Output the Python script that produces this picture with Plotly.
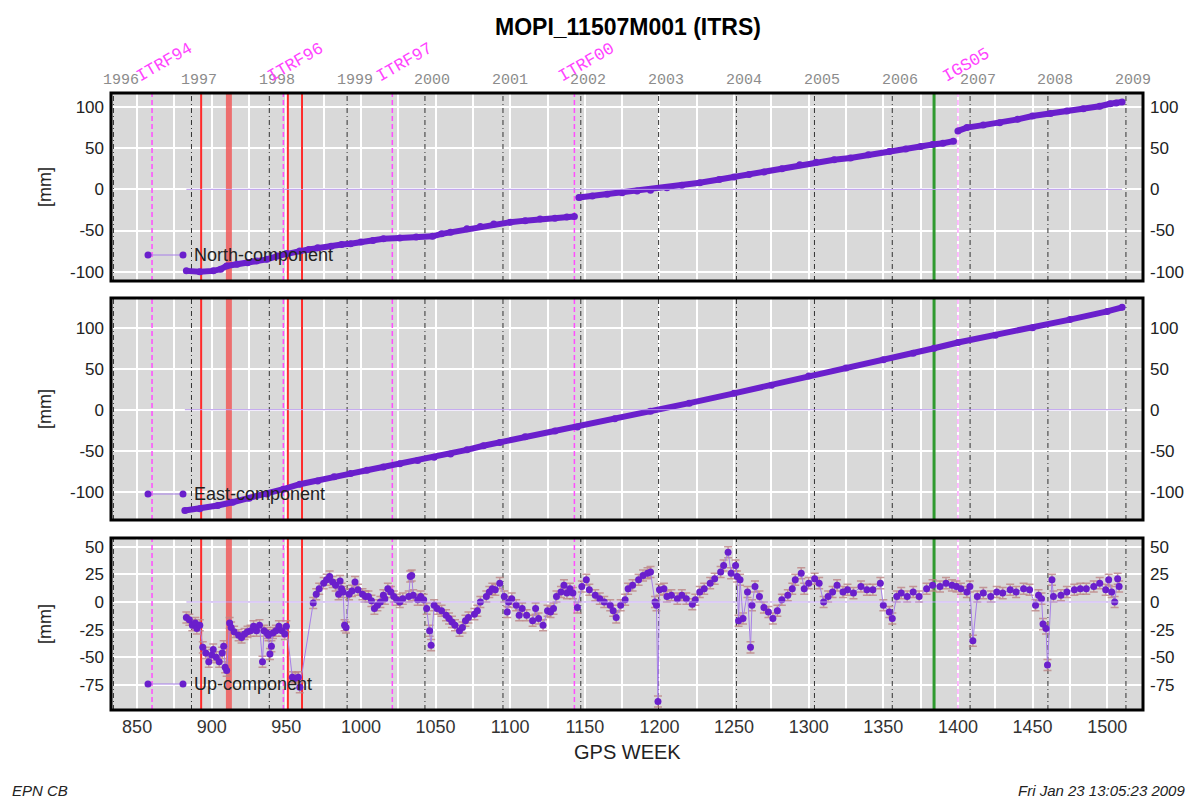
import plotly.graph_objects as go
import pandas as pd

W, H = 1195, 798

# ---------------------------------------------------------------------------
# Station MOPI_11507M001 – weekly coordinate residuals (mm) vs. GPS week
# ---------------------------------------------------------------------------
north_week = [883, 892, 901, 906, 910, 917, 924, 930, 937, 944, 950, 959, 965, 971,
              980, 987, 993, 1000, 1008, 1015, 1026, 1037, 1048, 1054, 1060, 1071,
              1080, 1089, 1100, 1110, 1120, 1130, 1138, 1143,
              None,
              1146, 1155, 1165, 1175, 1185, 1194, 1205, 1215, 1227, 1240, 1250, 1260,
              1270, 1282, 1294, 1305, 1317, 1328, 1340, 1354, 1365, 1375, 1383, 1390,
              1397,
              None,
              1400, 1406, 1417, 1428, 1440, 1450, 1462, 1473, 1484, 1495, 1502, 1506,
              1510]
north_mm = [-99, -100, -99, -97, -93, -91, -89, -87, -85, -81, -78, -75, -73, -71,
            -69, -67, -66, -64, -62, -60, -59, -58, -57, -54, -52, -48,
            -45, -42, -40, -38, -36, -35, -33.5, -33,
            None,
            -10, -8, -6, -4, -2, -1, 2, 5, 8, 12, 15, 18,
            21, 25, 30, 33, 36, 38, 42, 46, 49, 52, 54.5, 56,
            58.5,
            None,
            71, 75, 78, 81, 85, 89, 92, 95, 98, 101, 104, 105,
            106]

east_week = [882, 892, 904, 914, 925, 937, 948, 959, 971, 982, 993, 1004, 1015, 1026,
             1038, 1049, 1060, 1071, 1082, 1093, 1110, 1130, 1145, 1170, 1194, 1220,
             1250, 1275, 1300, 1325, 1350, 1370, 1384, 1400, 1425, 1450, 1475, 1500,
             1510]
east_mm = [-123, -121, -117, -113, -108, -103, -97, -91, -87, -82, -78, -74, -70, -66,
           -62, -58, -54, -49, -44, -40, -33, -26, -21, -11, -2, 8,
           20, 30, 41, 51, 61, 69, 75, 82, 91, 100, 110, 120,
           125]

up_week = [883, 885, 887, 889, 890, 892, 894, 896, 898, 900, 901, 903, 905, 907, 908,
           909, 910, 912, 913, 915, 918, 920, 922, 924, 926, 928, 930, 932, 934, 935,
           937, 938, 939, 940, 941, 943, 945, 947, 949, 950, 954, 956, 958, 959, 968,
           970, 972, 975, 977, 979, 981, 983, 985, 986, 987, 988, 989, 990, 992, 994,
           996, 998, 1001, 1003, 1005, 1007, 1009, 1011, 1013, 1015, 1016, 1018, 1020,
           1022, 1024, 1026, 1028, 1032, 1033, 1034, 1035, 1038, 1040, 1042, 1044, 1046,
           1047, 1049, 1051, 1054, 1057, 1059, 1061, 1063, 1066, 1068, 1070, 1072, 1076,
           1078, 1080, 1084, 1086, 1088, 1090, 1093, 1096, 1098, 1099, 1101, 1104, 1106,
           1108, 1111, 1115, 1117, 1119, 1122, 1125, 1127, 1129, 1131, 1134, 1136, 1138,
           1140, 1142, 1145, 1148, 1151, 1153, 1157, 1160, 1163, 1167, 1169, 1171, 1174,
           1177, 1179, 1182, 1186, 1189, 1192, 1194, 1197, 1198, 1199, 1200, 1203, 1205,
           1208, 1212, 1215, 1218, 1222, 1224, 1227, 1230, 1234, 1237, 1241, 1243, 1246,
           1248, 1251, 1252, 1253, 1254, 1256, 1259, 1261, 1262, 1264, 1267, 1270, 1273,
           1276, 1279, 1282, 1286, 1289, 1291, 1295, 1297, 1300, 1304, 1307, 1310, 1313,
           1316, 1319, 1323, 1326, 1330, 1335, 1339, 1343, 1348, 1350, 1354, 1356, 1359,
           1362, 1366, 1370, 1374, 1379, 1383, 1388, 1392, 1396, 1399, 1402, 1406, 1408,
           1410, 1413, 1417, 1422, 1426, 1430, 1435, 1439, 1444, 1448, 1452, 1454, 1456,
           1457, 1459, 1460, 1463, 1464, 1469, 1473, 1478, 1482, 1486, 1491, 1495, 1499,
           1501, 1503, 1505, 1507, 1508]
up_mm = [-14, -16, -21, -19, -24, -21, -41, -46, -54, -48, -43, -50, -54, -46, -40,
         -59, -62, -19, -23, -27, -30, -32, -29, -27, -26, -22, -26, -21, -54, -26,
         -28, -30, -47, -40, -28, -26, -22, -26, -29, -22, -68, -69, -68, -77, -1,
         7, 12, 17, 20, 23, 18, 15, 7, 19, 12, 9, -21, -23, 7, 10,
         18, 11, 7, 5, 5, 1, -6, -3, 0, 6, 3, 12, 9,
         5, 2, 0, 3, 5, 23, 24, 6, 2, 5, 2, -6, -26,
         -39, -3, -6, -8, -12, -15, -18, -21, -26, -23, -17, -14, -11,
         -8, 0, 5, 9, 12, 11, 17, 5, -9, 0, 3, -3, -12,
         -6, -12, -17, -6, -15, -21, -8, -9, -6, 5, 9, 15, 8,
         12, 8, -5, 14, 20, 11, 6, 3, 0, -3, -8, -14, -3,
         2, 12, 15, 20, 24, 26, 27, 0, -3, -90, 11, 12, 5,
         6, 3, 6, 3, -2, 2, 9, 12, 17, 21, 27, 33, 45,
         26, 33, 23, -17, 20, -15, 9, -41, -3, 14, 5, -5, -9,
         -15, -8, 2, 6, 12, 20, 26, 12, 17, 21, 17, 0, 5,
         9, 15, 9, 11, 8, 14, 11, 11, 17, -3, -9, -15, 5,
         8, 5, 9, 5, 12, 15, 14, 17, 15, 14, 12, 9, 14,
         -35, 5, 8, 5, 9, 8, 11, 9, 12, 11, -3, 6, 3,
         -20, -24, -57, 20, 5, 6, 9, 11, 12, 12, 14, 17, 11,
         20, 9, 0, 21, 14]
up_sigma_mm = 5.0

# Reference-frame changes and station events (GPS weeks)
frame_names = ["ITRF94", "ITRF96", "ITRF97", "ITRF00", "IGS05"]
frame_weeks = [860, 948, 1021, 1143, 1400]
frame_colors = ["#ff4dff", "#ff4dff", "#ff4dff", "#ff4dff", "#ffa6ff"]
equipment_weeks = [892.9, 951.0, 960.5]
equipment_band = [909.5, 913.5]
discontinuity_week = 1384
years = list(range(1996, 2010))

TITLE = "MOPI_11507M001 (ITRS)"

# ---------------------------------------------------------------------------
# Styling / geometry
# ---------------------------------------------------------------------------
PURPLE = "#6a1fcc"
LINK = "#a77fe8"
ZERO = "#b999ec"
FONT = "Liberation Sans, Arial, Helvetica, sans-serif"
MONO = "Liberation Mono, Courier New, monospace"

X_RANGE = [832.5, 1524]
PLOT_L, PLOT_R = 111, 1143

panels = [
    dict(name="North-component", week=north_week, mm=north_mm, top=93, bottom=281,
         rng=[-111.3, 117], ticks=[-100, -50, 0, 50, 100], err=False),
    dict(name="East-component", week=east_week, mm=east_mm, top=298, bottom=520,
         rng=[-134.7, 136.4], ticks=[-100, -50, 0, 50, 100], err=False),
    dict(name="Up-component", week=up_week, mm=up_mm, top=538, bottom=710,
         rng=[-97.6, 57.8], ticks=[-75, -50, -25, 0, 25, 50], err=True),
]


def px(xp):
    return xp / W


def py(yp):
    return 1 - yp / H


def gps_week(year):
    return (pd.Timestamp(year=year, month=1, day=1) - pd.Timestamp("1980-01-06")).days / 7.0


def vlines(weeks, rng):
    """x/y arrays for a set of full-height vertical lines separated by gaps."""
    xs, ys = [], []
    for w in weeks:
        xs += [w, w, None]
        ys += [rng[0], rng[1], None]
    return xs, ys


year_weeks = [gps_week(y) for y in years]

fig = go.Figure()
layout = dict(
    width=W, height=H, autosize=False,
    margin=dict(l=0, r=0, t=0, b=0),
    paper_bgcolor="white", plot_bgcolor="#d9d9d9",
    showlegend=False,
    font=dict(family=FONT, color="#222"),
)
shapes = []
annotations = []

for i, p in enumerate(panels):
    k = i + 1
    xa = "x" if k == 1 else f"x{k}"
    ya = "y" if k == 1 else f"y{k}"
    ya_r = f"y{k + 3}"
    dom_y = [py(p["bottom"]), py(p["top"])]
    dom_x = [px(PLOT_L), px(PLOT_R)]
    rng = p["rng"]

    is_bottom = k == 3
    layout["xaxis" if k == 1 else f"xaxis{k}"] = dict(
        domain=dom_x, anchor=ya, range=X_RANGE,
        tickmode="linear", tick0=850, dtick=50,
        showgrid=True, gridcolor="white", gridwidth=2,
        minor=dict(tickmode="linear", tick0=825, dtick=25, showgrid=True,
                   gridcolor="white", gridwidth=2),
        zeroline=False, showline=False, ticks="",
        showticklabels=is_bottom, ticklabelstandoff=4,
        tickfont=dict(size=18, color="#333", family=FONT),
    )
    tick_text = [str(v) for v in p["ticks"]]
    layout["yaxis" if k == 1 else f"yaxis{k}"] = dict(
        domain=dom_y, anchor=xa, range=rng,
        tickmode="array", tickvals=p["ticks"], ticktext=tick_text,
        showgrid=True, gridcolor="white", gridwidth=2,
        zeroline=False, showline=False, ticks="", ticklabelstandoff=6,
        tickfont=dict(size=17, color="#222", family=FONT),
    )
    layout[f"yaxis{k + 3}"] = dict(
        overlaying=ya, anchor=xa, side="right", range=rng,
        tickmode="array", tickvals=p["ticks"], ticktext=tick_text,
        showgrid=False, zeroline=False, showline=False, ticks="",
        ticklabelstandoff=6,
        tickfont=dict(size=17, color="#222", family=FONT),
    )

    common = dict(xaxis=xa, yaxis=ya, hoverinfo="skip", mode="lines")

    # year boundaries
    vx, vy = vlines(year_weeks, rng)
    fig.add_trace(go.Scatter(x=vx, y=vy,
                             line=dict(color="#333", width=1, dash="5px,3px,1px,3px"),
                             **common))
    # reference frame changes
    for fw, fc in zip(frame_weeks, frame_colors):
        vx, vy = vlines([fw], rng)
        fig.add_trace(go.Scatter(x=vx, y=vy,
                                 line=dict(color=fc, width=1.5, dash="5px,3px"),
                                 **common))
    # equipment changes
    b0, b1 = equipment_band
    fig.add_trace(go.Scatter(x=[b0, b1, b1, b0, b0], y=[rng[0], rng[0], rng[1], rng[1], rng[0]],
                             fill="toself", fillcolor="rgba(240,90,90,0.85)",
                             line=dict(width=0), **common))
    vx, vy = vlines(equipment_weeks, rng)
    fig.add_trace(go.Scatter(x=vx, y=vy, line=dict(color="#ff2a2a", width=2), **common))
    vx, vy = vlines([discontinuity_week], rng)
    fig.add_trace(go.Scatter(x=vx, y=vy, line=dict(color="#2f9a2f", width=3), **common))

    # zero reference over the observed span (also drives the right-hand axis)
    wk_valid = [w for w in p["week"] if w is not None]
    fig.add_trace(go.Scatter(
        x=[min(wk_valid), max(wk_valid)], y=[0, 0], xaxis=xa, yaxis=ya_r,
        mode="lines", line=dict(color=ZERO, width=1), hoverinfo="skip"))

    # series
    if p["err"]:
        fig.add_trace(go.Scatter(
            x=p["week"], y=p["mm"], xaxis=xa, yaxis=ya, mode="lines+markers",
            line=dict(color=LINK, width=1),
            marker=dict(color=PURPLE, size=7),
            error_y=dict(type="constant", value=up_sigma_mm, color="rgba(188,132,132,0.8)",
                         thickness=1.5, width=4),
        ))
    else:
        fig.add_trace(go.Scatter(
            x=p["week"], y=p["mm"], xaxis=xa, yaxis=ya, mode="lines+markers",
            line=dict(color=PURPLE, width=6), connectgaps=False,
            marker=dict(color=PURPLE, size=7),
        ))

    # panel frame
    shapes.append(dict(type="rect", xref="paper", yref="paper",
                       x0=dom_x[0], x1=dom_x[1], y0=dom_y[0], y1=dom_y[1],
                       layer="above", line=dict(color="black", width=3)))

    # in-panel key: marker - line - marker + label
    key_y = p["bottom"] - 26
    shapes.append(dict(type="line", xref="paper", yref="paper",
                       x0=px(148), x1=px(183), y0=py(key_y), y1=py(key_y),
                       layer="above", line=dict(color=LINK, width=1)))
    for cx in (148, 183):
        shapes.append(dict(type="circle", xref="paper", yref="paper",
                           x0=px(cx - 3.5), x1=px(cx + 3.5),
                           y0=py(key_y + 3.5), y1=py(key_y - 3.5),
                           layer="above", fillcolor=PURPLE, line=dict(width=0)))
    annotations.append(dict(text=p["name"], xref="paper", yref="paper",
                            x=px(192), y=py(key_y), xanchor="left", yanchor="middle",
                            showarrow=False, font=dict(size=18, color="#222", family=FONT)))

    # axis title
    annotations.append(dict(text="[mm]", xref="paper", yref="paper",
                            x=px(45), y=py((p["top"] + p["bottom"]) / 2), textangle=-90,
                            xanchor="center", yanchor="middle", showarrow=False,
                            font=dict(size=18, color="#222", family=FONT)))

# calendar years above the top panel
for yr, yw in zip(years, year_weeks):
    annotations.append(dict(text=str(yr), xref="x", yref="paper", x=yw + 5, y=py(80),
                            xanchor="center", yanchor="middle", showarrow=False,
                            font=dict(size=15, color="#8c8c8c", family=MONO)))

# reference frame labels
for name, fw, fc in zip(frame_names, frame_weeks, frame_colors):
    L = len(name) * 10.2
    annotations.append(dict(text=name, xref="x", yref="paper",
                            x=fw + (0.433 * L - 14) / 1.4925, y=py(81 - 0.3 * L),
                            xanchor="center", yanchor="middle", textangle=-30,
                            showarrow=False,
                            font=dict(size=17, color="#ff44ff", family=MONO)))

annotations += [
    dict(text=f"<b>{TITLE}</b>", xref="paper", yref="paper", x=px(628), y=py(27),
         xanchor="center", yanchor="middle", showarrow=False,
         font=dict(size=23, color="black", family=FONT)),
    dict(text="GPS WEEK", xref="paper", yref="paper", x=px(627), y=py(752),
         xanchor="center", yanchor="middle", showarrow=False,
         font=dict(size=20, color="#222", family=FONT)),
    dict(text="<i>EPN CB</i>", xref="paper", yref="paper", x=px(10), y=py(790),
         xanchor="left", yanchor="middle", showarrow=False,
         font=dict(size=15, color="#222", family=FONT)),
    dict(text="<i>Fri Jan 23 13:05:23 2009</i>", xref="paper", yref="paper",
         x=px(1187), y=py(790), xanchor="right", yanchor="middle", showarrow=False,
         font=dict(size=15, color="#222", family=FONT)),
]

layout["shapes"] = shapes
layout["annotations"] = annotations
fig.update_layout(**layout)
fig.write_html("out.html")
